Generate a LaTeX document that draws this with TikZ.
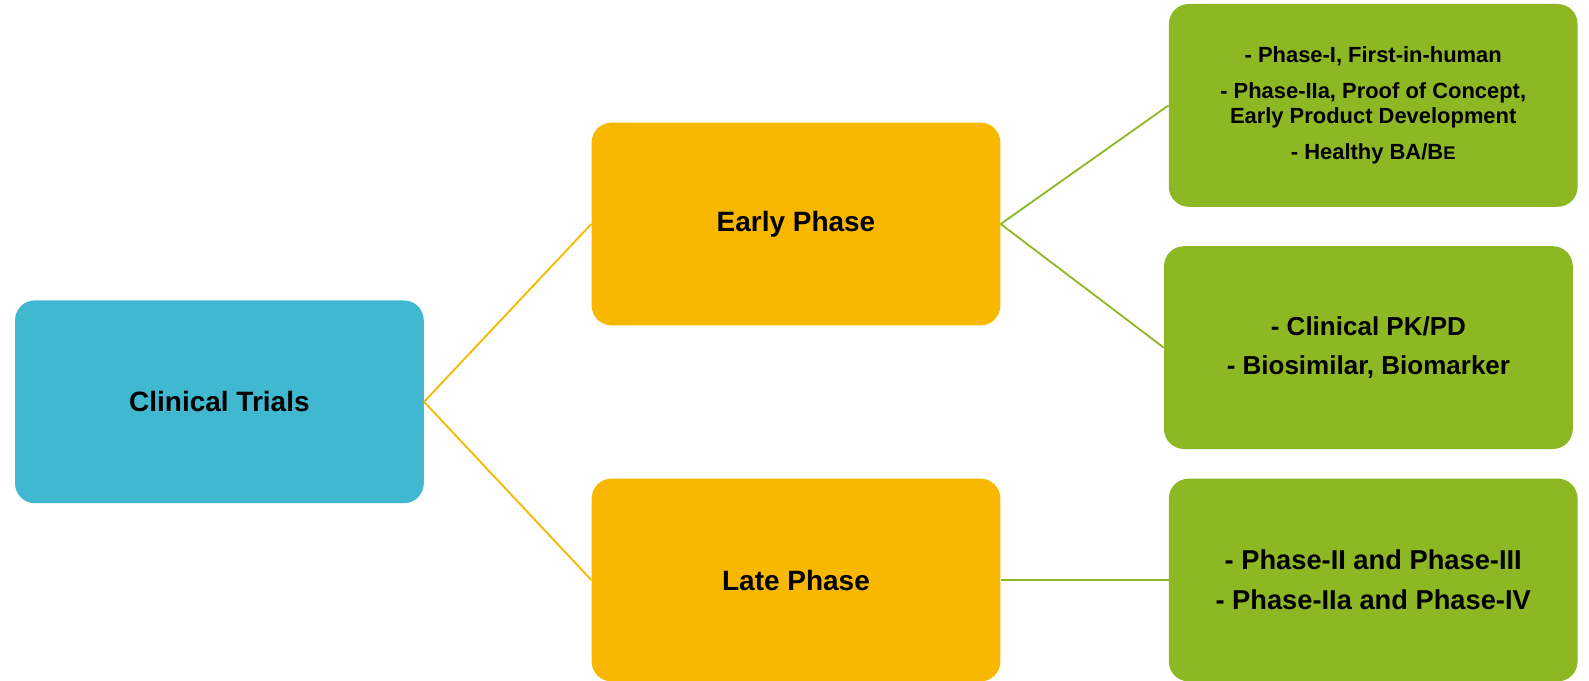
\documentclass[tikz,border=0pt]{standalone}
\usepackage{fontspec}
\setmainfont{Liberation Sans}
\usepackage{tikz}
\usetikzlibrary{positioning, calc}
\definecolor{trialblue}{HTML}{40B8D0}
\definecolor{phaseorange}{HTML}{F9B800}
\definecolor{itemgreen}{HTML}{8DB824}

\begin{document}
\begin{tikzpicture}[
  box/.style={rounded corners=0.5cm, minimum width=10.22cm, minimum height=5.07cm,
    align=center, font=\bfseries, text=black},
  root/.style={box, fill=trialblue, font=\bfseries\fontsize{19.9}{24}\selectfont},
  phase/.style={box, fill=phaseorange, font=\bfseries\fontsize{19.9}{24}\selectfont},
  item/.style={box, fill=itemgreen},
  olink/.style={draw=phaseorange, line width=1.3pt},
  glink/.style={draw=itemgreen, line width=1.3pt}]
\useasboundingbox (0,0) rectangle (39.725,-17);

% root and the two phases
\node[root] (trials) at (5.485,-10.045) {Clinical Trials};
\node[phase] (early) at (19.9,-5.6) {Early Phase};
\node[phase] (late) at (19.9,-14.5) {Late Phase};

% what each phase covers
\node[item, font=\bfseries\fontsize{15.6}{17.8}\selectfont] (earlyA) at (34.33,-2.635)
  {- Phase-I, First-in-human\\[0.28cm]
   - Phase-IIa, Proof of Concept,\\Early Product Development\\[0.28cm]
   - Healthy BA/B{\fontsize{13}{17.8}\selectfont E}};
\node[item, font=\bfseries\fontsize{18.5}{22}\selectfont] (earlyB) at (34.21,-8.69)
  {- Clinical PK/PD\\[0.2cm]- Biosimilar, Biomarker};
\node[item, font=\bfseries\fontsize{19.4}{23}\selectfont] (lateA) at (34.33,-14.5)
  {- Phase-II and Phase-III\\[0.2cm]- Phase-IIa and Phase-IV};

% connectors
\draw[olink] (trials.east) -- (early.west);
\draw[olink] (trials.east) -- (late.west);
\draw[glink] (early.east) -- (earlyA.west);
\draw[glink] (early.east) -- (earlyB.west);
\draw[glink] (late.east) -- (lateA.west);
\end{tikzpicture}
\end{document}
